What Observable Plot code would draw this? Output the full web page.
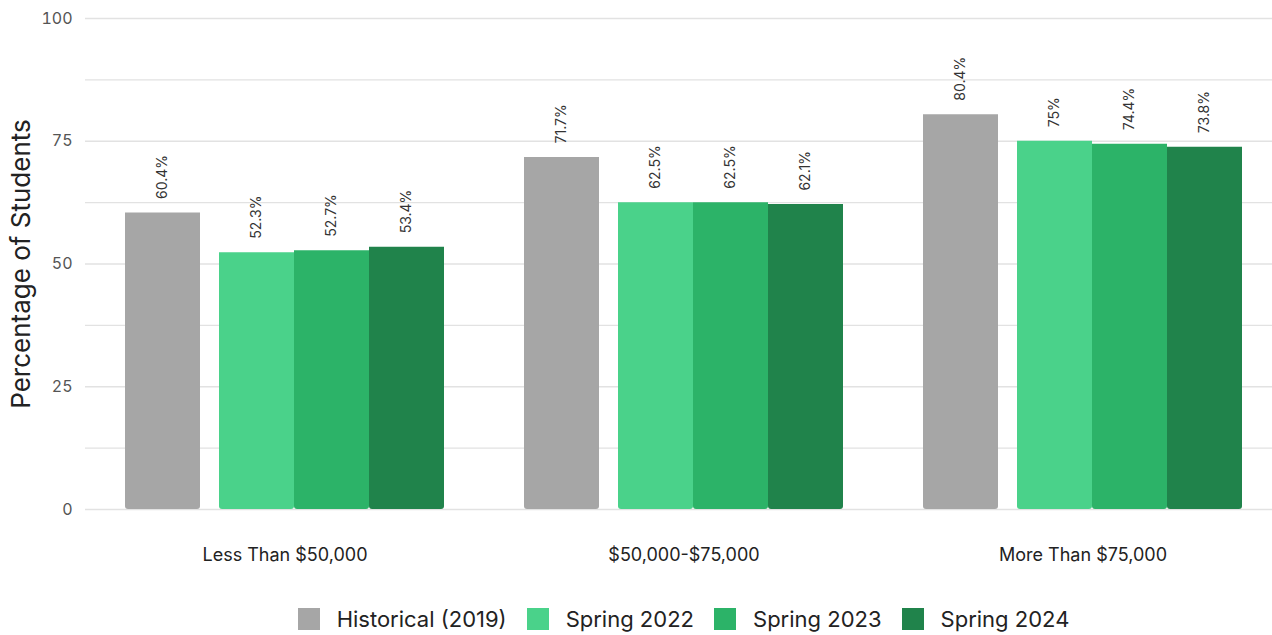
<!DOCTYPE html>
<html>
<head>
<meta charset="utf-8">
<script src="https://cdn.jsdelivr.net/npm/d3@7"></script>
<script src="https://cdn.jsdelivr.net/npm/@observablehq/plot@0.6"></script>
<style>
  html, body { margin: 0; padding: 0; background: #fff; overflow: hidden; }
  body { font-family: Inter, "Open Sans", sans-serif; }
  #chart { width: 1272px; overflow: hidden; }
  #chart svg { display: block; }
  .legend {
    display: flex; justify-content: center; align-items: center;
    margin-left: 85px; width: 1197px; margin-top: 26px;
    font-size: 22px; color: #222; line-height: 26px;
  }
  .legend .item { display: flex; align-items: center; margin: 0 10px; }
  .legend .swatch { width: 22px; height: 22px; margin-right: 17px; }
</style>
</head>
<body>
<div id="chart"></div>
<script>
// Share of students by household income, historical vs. recent spring terms
const incomeGroups = ["Less Than $50,000", "$50,000-$75,000", "More Than $75,000"];
const seriesNames = ["Historical (2019)", "Spring 2022", "Spring 2023", "Spring 2024"];
const seriesColors = ["#a6a6a6", "#4ad28a", "#2cb368", "#20834b"];

const historical2019 = [60.4, 71.7, 80.4];
const spring2022 = [52.3, 62.5, 75];
const spring2023 = [52.7, 62.5, 74.4];
const spring2024 = [53.4, 62.1, 73.8];

const yTickValues = [0, 25, 50, 75, 100];
const gridValues = [0, 12.5, 25, 37.5, 50, 62.5, 75, 87.5, 100];
const yTitle = "Percentage of Students";

// Long-format rows built from the series arrays
const seriesValues = [historical2019, spring2022, spring2023, spring2024];
const rows = [];
seriesValues.forEach((values, si) => {
  values.forEach((v, gi) => rows.push({group: incomeGroups[gi], series: seriesNames[si], value: v}));
});
const baseline = rows.filter(d => d.series === seriesNames[0]);
const recent = rows.filter(d => d.series !== seriesNames[0]);

const fmt = d => `${d.value}%`;
const barOpts = {fx: "group", x: "series", y: "value", fill: "series", ry2: 3};
const labelOpts = {
  fx: "group", x: "series", y: "value", text: fmt,
  rotate: -90, textAnchor: "start", dy: -14,
  fontSize: 14, fill: "#333"
};

const chart = Plot.plot({
  width: 1272,
  height: 580,
  marginTop: 18,
  marginBottom: 71,
  marginLeft: 85,
  marginRight: -10,
  style: {fontFamily: "Inter, 'Open Sans', sans-serif", background: "transparent", overflow: "hidden"},
  fx: {domain: incomeGroups, paddingInner: 0, paddingOuter: 0, label: null},
  x: {domain: seriesNames, paddingInner: 0, paddingOuter: 0.642, align: 0.593, axis: null},
  y: {domain: [0, 100], label: null},
  color: {domain: seriesNames, range: seriesColors},
  marks: [
    Plot.gridY(gridValues, {stroke: "#e2e2e2", strokeOpacity: 1, strokeWidth: 1.3}),
    Plot.barY(baseline, {...barOpts, dx: -19}),
    Plot.barY(recent, barOpts),
    Plot.text(baseline, {...labelOpts, dx: -19}),
    Plot.text(recent, labelOpts),
    Plot.axisY(yTickValues, {tickSize: 0, tickPadding: 13, fontSize: 16, fill: "#555", label: null}),
    Plot.axisY([], {tickSize: 0, label: yTitle, labelArrow: "none", labelAnchor: "center", labelOffset: 74, fontSize: 26, fill: "#222"}),
    Plot.axisFx({anchor: "bottom", tickSize: 0, tickPadding: 39, fontSize: 18, fill: "#222", label: null})
  ]
});

const container = document.getElementById("chart");
container.appendChild(chart);

// Legend row under the chart
const legend = document.createElement("div");
legend.className = "legend";
seriesNames.forEach((name, i) => {
  const item = document.createElement("div");
  item.className = "item";
  const sw = document.createElement("span");
  sw.className = "swatch";
  sw.style.background = seriesColors[i];
  const label = document.createElement("span");
  label.textContent = name;
  item.appendChild(sw);
  item.appendChild(label);
  legend.appendChild(item);
});
container.appendChild(legend);
</script>
</body>
</html>
